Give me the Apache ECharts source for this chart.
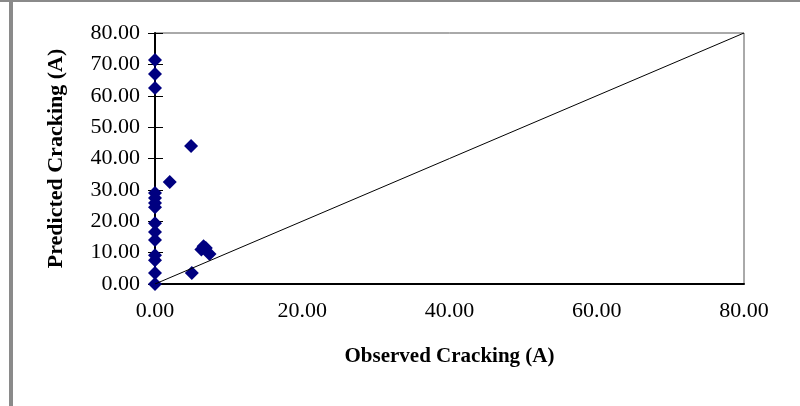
<!DOCTYPE html>
<html>
<head>
<meta charset="utf-8">
<script src="https://cdn.jsdelivr.net/npm/echarts@6/dist/echarts.min.js"></script>
<style>
  html, body { margin: 0; padding: 0; background: #fff; }
  #chart { width: 800px; height: 406px; }
</style>
</head>
<body>
<div id="chart"></div>
<script>
// observed vs predicted cracking
var observed  = [0, 0, 0, 0, 0, 0, 0, 0, 0, 0, 0, 0, 0, 0, 4.9, 2.0, 6.3, 6.6, 6.9, 7.4, 5.0];
var predicted = [71.4, 66.9, 62.5, 29.0, 27.4, 25.8, 24.5, 19.4, 16.6, 14.0, 9.2, 7.6, 3.5, 0, 44.0, 32.5, 11.0, 12.0, 11.5, 9.6, 3.5];
var equalityLine = [[0, 0], [80, 80]];
var xTitle = 'Observed Cracking (A)';
var yTitle = 'Predicted Cracking (A)';

var points = observed.map(function (v, i) { return [v, predicted[i]]; });
var serif = '"Liberation Serif", "Times New Roman", serif';

var chart = echarts.init(document.getElementById('chart'));
chart.setOption({
  animation: false,
  grid: { left: 155, right: 56, top: 33, bottom: 122, show: true, borderColor: '#555', borderWidth: 1 },
  xAxis: {
    type: 'value', min: 0, max: 80, interval: 20,
    name: xTitle, nameLocation: 'middle', nameGap: 62,
    nameTextStyle: { fontFamily: serif, fontWeight: 'bold', fontSize: 21, color: '#000' },
    axisLine: { show: true, lineStyle: { color: '#000', width: 2 } },
    axisTick: { show: false },
    splitLine: { show: false },
    axisLabel: { fontFamily: serif, fontSize: 22, color: '#000', margin: 16,
      formatter: function (v) { return v.toFixed(2); } }
  },
  yAxis: [{
    type: 'value', min: 0, max: 80, interval: 10,
    name: yTitle, nameLocation: 'middle', nameGap: 88,
    nameTextStyle: { fontFamily: serif, fontWeight: 'bold', fontSize: 22, color: '#000' },
    axisLine: { show: true, lineStyle: { color: '#000', width: 2 } },
    axisTick: { show: true, length: 7, lineStyle: { color: '#000' } },
    splitLine: { show: false },
    axisLabel: { fontFamily: serif, fontSize: 22, color: '#000', margin: 15,
      formatter: function (v) { return v.toFixed(2); } }
  }, {
    type: 'value', min: 0, max: 80, interval: 10, position: 'left',
    axisLine: { show: false },
    axisTick: { show: true, inside: true, length: 8, lineStyle: { color: '#000' } },
    axisLabel: { show: false },
    splitLine: { show: false }
  }],
  series: [{
    type: 'line', data: equalityLine, symbol: 'none', silent: true,
    lineStyle: { color: '#000', width: 1 }
  }, {
    type: 'scatter', data: points, symbol: 'diamond', symbolSize: 14,
    itemStyle: { color: '#000080', opacity: 1 }
  }],
  graphic: [
    { type: 'rect', shape: { x: 9, y: 0, width: 4, height: 406 }, style: { fill: '#8a8a8a' } },
    { type: 'rect', shape: { x: 0, y: 0, width: 800, height: 2 }, style: { fill: '#8a8a8a' } }
  ]
});
</script>
</body>
</html>
